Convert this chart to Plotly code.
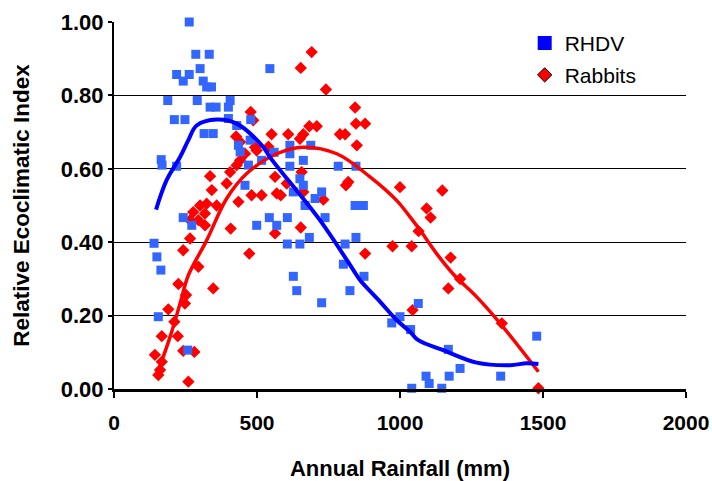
import plotly.graph_objects as go

# RHDV observations (annual rainfall mm, relative EI)
rhdv_x = [263, 286, 333, 301, 545, 219, 263, 242, 312, 324, 341, 188, 291, 406, 336, 357, 400,
          211, 248, 400, 478, 315, 347, 429, 435, 476, 560,
          165, 168, 219, 441, 470, 516, 458, 242, 272, 499, 543, 569, 140, 150, 164,
          155, 258,
          615, 688,
          615, 615, 662, 784, 846, 650, 662, 627, 726, 703, 668, 843, 872, 738, 606, 683, 606,
          650, 808, 846, 802, 627, 874,
          639, 726, 825, 971, 1000, 1037, 1064, 1041,
          1169, 1210, 1172, 1091, 1102, 1146, 1352, 1478]
rhdv_y = [1.00, 0.912, 0.912, 0.873, 0.873, 0.857, 0.857, 0.839, 0.839, 0.823, 0.823, 0.786, 0.786, 0.786, 0.768, 0.768, 0.768,
          0.734, 0.734, 0.737, 0.734, 0.696, 0.696, 0.718, 0.664, 0.678, 0.645,
          0.625, 0.61, 0.607, 0.646, 0.61, 0.623, 0.555, 0.467, 0.446, 0.446, 0.467, 0.446, 0.397, 0.36, 0.324,
          0.197, 0.106,
          0.664, 0.664,
          0.641, 0.607, 0.623, 0.607, 0.607, 0.573, 0.555, 0.537, 0.537, 0.519, 0.50, 0.50, 0.50, 0.467, 0.467, 0.413, 0.395,
          0.395, 0.395, 0.413, 0.34, 0.307, 0.307,
          0.268, 0.235, 0.268, 0.18, 0.197, 0.162, 0.233, 0.002,
          0.108, 0.056, 0.035, 0.035, 0.015, 0.002, 0.035, 0.144]

# Rabbit observations
rabbit_x = [478, 487, 551, 427, 441, 493,
            336, 342, 301, 324, 359, 277, 318, 295, 266, 318, 408, 435, 481, 516, 394, 406, 429, 441,
            458, 499, 266, 242, 473, 295, 563, 569, 563, 540,
            225, 252, 248, 347, 190, 211, 167, 223, 143, 167, 161, 155, 242, 281, 260,
            691, 653, 741, 843, 846, 878, 709, 683, 662, 650, 790, 808, 609, 849,
            604, 583, 656, 662, 732, 819, 811, 1000, 653, 878, 974, 1041, 1065,
            1044, 1148, 1093, 1107, 1177, 1210, 1169, 1356, 1484]
rabbit_y = [0.755, 0.732, 0.694, 0.688, 0.673, 0.659,
            0.58, 0.542, 0.50, 0.505, 0.50, 0.482, 0.478, 0.46, 0.46, 0.446, 0.437, 0.51, 0.528, 0.528, 0.56, 0.591, 0.61, 0.623,
            0.641, 0.65, 0.41, 0.378, 0.369, 0.333, 0.578, 0.533, 0.424, 0.66,
            0.286, 0.256, 0.233, 0.274, 0.217, 0.183, 0.144, 0.144, 0.093, 0.074, 0.052, 0.038, 0.104, 0.101, 0.02,
            0.918, 0.875, 0.816, 0.767, 0.723, 0.723, 0.716, 0.716, 0.694, 0.682, 0.694, 0.694, 0.694, 0.664,
            0.56, 0.528, 0.591, 0.537, 0.516, 0.564, 0.555, 0.55, 0.44, 0.369, 0.389, 0.389, 0.43,
            0.215, 0.541, 0.492, 0.467, 0.358, 0.30, 0.274, 0.179, 0.002]

# Trend lines
rhdv_trend_x = [147, 184, 231, 260, 289, 359, 429, 522, 545, 720, 837, 860, 930, 988, 1035, 1064, 1151, 1268, 1385, 1443, 1484]
rhdv_trend_y = [0.489, 0.569, 0.632, 0.678, 0.718, 0.734, 0.723, 0.659, 0.632, 0.46, 0.324, 0.297, 0.238, 0.188, 0.156, 0.133, 0.106, 0.072, 0.065, 0.07, 0.068]
rabbit_trend_x = [155, 196, 231, 260, 324, 394, 464, 569, 662, 779, 895, 988, 1035, 1070, 1128, 1190, 1268, 1350, 1484]
rabbit_trend_y = [0.05, 0.142, 0.233, 0.31, 0.405, 0.519, 0.587, 0.641, 0.659, 0.641, 0.578, 0.514, 0.469, 0.433, 0.369, 0.31, 0.251, 0.179, 0.047]

x_ticks = [0, 500, 1000, 1500, 2000]
y_ticks = [0, 0.2, 0.4, 0.6, 0.8, 1.0]

FONT = "Liberation Sans"

fig = go.Figure()
fig.add_trace(go.Scatter(x=rabbit_x, y=rabbit_y, mode="markers", showlegend=False, cliponaxis=False,
                         marker=dict(symbol="diamond", size=9.5, color="#ff0000", line=dict(width=0))))
fig.add_trace(go.Scatter(x=rhdv_x, y=rhdv_y, mode="markers", showlegend=False, cliponaxis=False,
                         marker=dict(symbol="square", size=9, color="#3366ff", line=dict(width=0))))
fig.add_trace(go.Scatter(x=rabbit_trend_x, y=rabbit_trend_y, mode="lines", showlegend=False,
                         line=dict(color="#ff0000", width=3.5, shape="spline", smoothing=1.0)))
fig.add_trace(go.Scatter(x=rhdv_trend_x, y=rhdv_trend_y, mode="lines", showlegend=False,
                         line=dict(color="#0000ff", width=4, shape="spline", smoothing=1.0)))
# legend entries
fig.add_trace(go.Scatter(x=[None], y=[None], mode="markers", name="RHDV", legend="legend",
                         marker=dict(symbol="square", size=14, color="#0000ff")))
fig.add_trace(go.Scatter(x=[None], y=[None], mode="markers", name="Rabbits", legend="legend2",
                         marker=dict(symbol="diamond", size=11, color="#ff0000", line=dict(color="black", width=1))))

fig.update_layout(
    width=712, height=481,
    margin=dict(l=114, r=26, t=22, b=92, autoexpand=False),
    paper_bgcolor="white", plot_bgcolor="white",
    font=dict(family=FONT, color="black"),
    legend=dict(x=0.718, y=0.942, xanchor="left", yanchor="middle", bgcolor="rgba(0,0,0,0)",
                font=dict(family=FONT, size=21, color="black")),
    legend2=dict(x=0.718, y=0.855, xanchor="left", yanchor="middle", bgcolor="rgba(0,0,0,0)",
                 font=dict(family=FONT, size=21, color="black")),
    xaxis=dict(range=[0, 2000], tickvals=x_ticks, showgrid=False, zeroline=False, automargin=False,
               showline=True, linecolor="black", linewidth=3,
               ticks="outside", ticklen=6, tickwidth=2, tickcolor="black",
               tickfont=dict(family=FONT, size=21, weight="bold", color="black"),
               ticklabelstandoff=7,
               title=dict(text="Annual Rainfall (mm)", standoff=28,
                          font=dict(family=FONT, size=22, weight="bold", color="black"))),
    yaxis=dict(range=[0, 1.0], tickvals=y_ticks, tickformat=".2f", showgrid=True, gridcolor="black",
               gridwidth=1, zeroline=False, showline=True, linecolor="black", linewidth=2, automargin=False,
               ticks="outside", ticklen=4, tickwidth=2, tickcolor="black",
               tickfont=dict(family=FONT, size=22, weight="bold", color="black"),
               title=dict(text="Relative Ecoclimatic Index", standoff=25,
                          font=dict(family=FONT, size=22.5, weight="bold", color="black"))),
)

fig.write_html("out.html", config={"displayModeBar": False},
               post_script="document.body.style.margin='0';document.body.style.overflow='hidden';")
